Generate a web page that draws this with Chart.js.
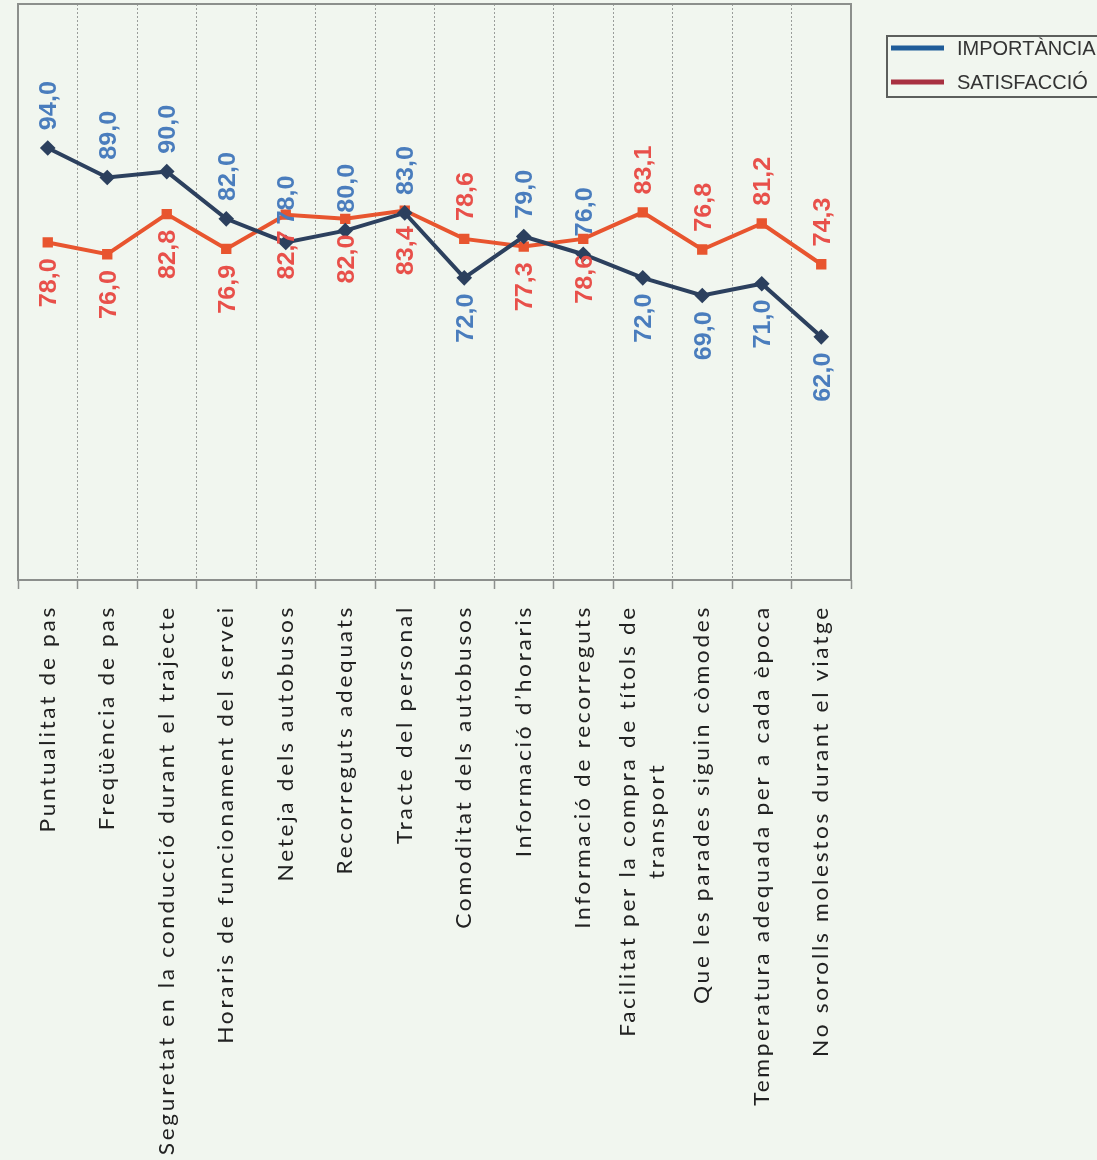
<!DOCTYPE html>
<html>
<head>
<meta charset="utf-8">
<script src="https://cdn.jsdelivr.net/npm/chart.js@4.4.1/dist/chart.umd.min.js"></script>
<style>
  html, body { margin: 0; padding: 0; background: #f1f6ef; }
  #wrap { width: 1097px; height: 1160px; }
</style>
</head>
<body>
<div id="wrap"><canvas id="myChart" width="1097" height="1160"></canvas></div>
<script>
// Categories (x axis)
const categories = [
  'Puntualitat de pas',
  'Freqüència de pas',
  'Seguretat en la conducció durant el trajecte',
  'Horaris de funcionament del servei',
  'Neteja dels autobusos',
  'Recorreguts adequats',
  'Tracte del personal',
  'Comoditat dels autobusos',
  'Informació d’horaris',
  'Informació de recorreguts',
  ['Facilitat per la compra de títols de', 'transport'],
  'Que les parades siguin còmodes',
  'Temperatura adequada per a cada època',
  'No sorolls molestos durant el viatge'
];

// Series values
const importancia = [94.0, 89.0, 90.0, 82.0, 78.0, 80.0, 83.0, 72.0, 79.0, 76.0, 72.0, 69.0, 71.0, 62.0];
const satisfaccio = [78.0, 76.0, 82.8, 76.9, 82.7, 82.0, 83.4, 78.6, 77.3, 78.6, 83.1, 76.8, 81.2, 74.3];

const seriesNames = ['IMPORTÀNCIA', 'SATISFACCIÓ'];

// which series has its value label above the point, per category (style only)
const impLabelAbove = [true, true, true, true, true, true, true, false, true, true, false, false, false, false];

const BG = '#f1f6ef';
const LABEL_FONT = '21px Lato';
const LABEL_STRETCH = 1.08;

const fmt = v => v.toFixed(1).replace('.', ',');

// fondo + marco + etiquetas
const decorPlugin = {
  id: 'decor',
  beforeDraw(chart) {
    const ctx = chart.ctx;
    ctx.save();
    ctx.fillStyle = BG;
    ctx.fillRect(0, 0, chart.width, chart.height);
    ctx.restore();
  },
  afterDatasetsDraw(chart) {
    const ctx = chart.ctx;
    const colors = ['#4a7dbd', '#e8504a'];
    chart.data.datasets.forEach((ds, di) => {
      const meta = chart.getDatasetMeta(di);
      meta.data.forEach((pt, i) => {
        const above = di === 0 ? impLabelAbove[i] : !impLabelAbove[i];
        ctx.save();
        ctx.translate(pt.x + 2, pt.y);
        ctx.rotate(-Math.PI / 2);
        ctx.scale(1.05, 1);
        ctx.font = 'bold 24px "Liberation Sans"';
        ctx.fillStyle = colors[di];
        ctx.textBaseline = 'middle';
        ctx.textAlign = above ? 'left' : 'right';
        ctx.fillText(fmt(ds.data[i]), above ? 17 : -15, 0);
        ctx.restore();
      });
    });
  },
  afterDraw(chart) {
    const ctx = chart.ctx;
    const a = chart.chartArea;
    // marco del área
    ctx.save();
    ctx.strokeStyle = '#8c8f8c';
    ctx.lineWidth = 2;
    ctx.strokeRect(a.left, a.top, a.right - a.left, a.bottom - a.top);
    ctx.restore();

    // etiquetas de categoría giradas
    const xs = chart.scales.x;
    categories.forEach((lab, i) => {
      const lines = Array.isArray(lab) ? lab : [lab];
      const cx = xs.getPixelForTick(i);
      ctx.save();
      ctx.translate(cx, a.bottom + 25);
      ctx.rotate(-Math.PI / 2);
      ctx.scale(LABEL_STRETCH, 1);
      ctx.font = LABEL_FONT;
      ctx.letterSpacing = '2.5px';
      ctx.fillStyle = '#222222';
      ctx.textBaseline = 'middle';
      ctx.textAlign = 'center';
      const w0 = ctx.measureText(lines[0]).width;
      lines.forEach((ln, k) => {
        ctx.fillText(ln, -w0 / 2, (k - (lines.length - 1) / 2) * 29);
      });
      ctx.restore();
    });

    // leyenda
    ctx.save();
    ctx.strokeStyle = '#5c5f5c';
    ctx.lineWidth = 2;
    ctx.strokeRect(887, 36, 260, 61);
    const legColors = ['#1f5c99', '#a83040'];
    const legY = [48, 82];
    seriesNames.forEach((name, k) => {
      ctx.strokeStyle = legColors[k];
      ctx.lineWidth = 5;
      ctx.beginPath();
      ctx.moveTo(891, legY[k]);
      ctx.lineTo(944, legY[k]);
      ctx.stroke();
      ctx.font = '20px "Liberation Sans"';
      ctx.fillStyle = '#333333';
      ctx.textBaseline = 'middle';
      ctx.textAlign = 'left';
      ctx.fillText(name, 957, legY[k] + 1);
    });
    ctx.restore();
  }
};

const config = {
  type: 'line',
  data: {
    labels: categories,
    datasets: [{
      label: seriesNames[0],
      data: importancia,
      borderColor: '#2c405e',
      backgroundColor: '#2c405e',
      borderWidth: 4,
      pointStyle: 'rectRot',
      pointRadius: 5,
      tension: 0,
      fill: false
    }, {
      label: seriesNames[1],
      data: satisfaccio,
      borderColor: '#e8552f',
      backgroundColor: '#e8552f',
      borderWidth: 4,
      pointStyle: 'rect',
      pointRadius: 4.5,
      tension: 0,
      fill: false
    }]
  },
  options: {
    responsive: false,
    animation: false,
    devicePixelRatio: 1,
    layout: { autoPadding: false, padding: { left: 18, top: 4, right: 246, bottom: 0 } },
    plugins: {
      legend: { display: false },
      tooltip: { enabled: false }
    },
    scales: {
      x: {
        type: 'category',
        offset: true,
        ticks: { display: false },
        grid: {
          display: true,
          offset: true,
          color: '#9a9d9a',
          lineWidth: 1,
          drawTicks: true,
          tickLength: 9,
          tickColor: '#8c8f8c',
          tickWidth: 1.5
        },
        border: { display: false, dash: [2, 2] },
        afterFit(scale) { scale.height = 580; }
      },
      y: {
        display: false,
        min: 20.8,
        max: 118.4
      }
    }
  },
  plugins: [decorPlugin]
};

const myChart = new Chart(document.getElementById('myChart'), config);
</script>
</body>
</html>
